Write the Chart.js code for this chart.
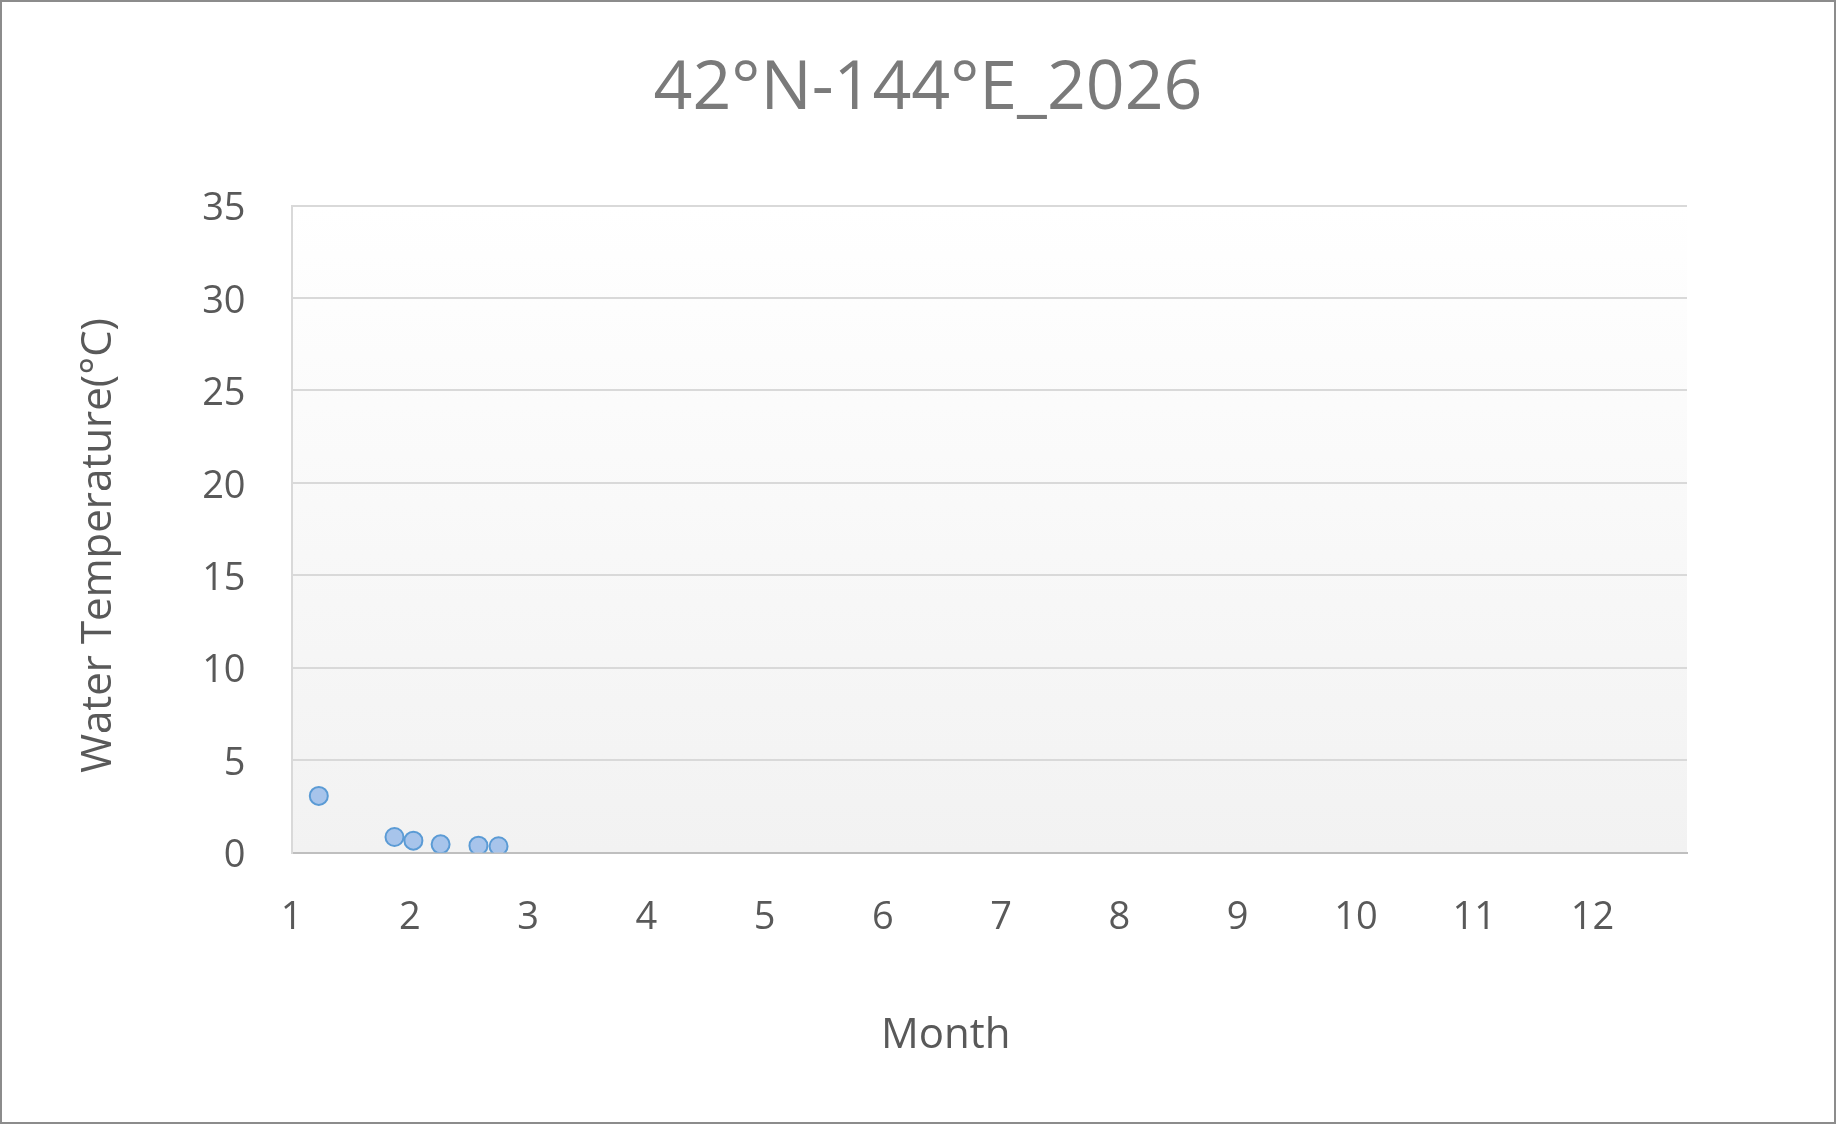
<!DOCTYPE html>
<html>
<head>
<meta charset="utf-8">
<title>42°N-144°E_2026</title>
<script src="https://cdn.jsdelivr.net/npm/chart.js@4/dist/chart.umd.min.js"></script>
<style>
    html, body { margin: 0; padding: 0; background: #fff; }
    #wrap {
        width: 1836px;
        height: 1124px;
        box-sizing: border-box;
        border: 2px solid #8c8c8c;
        background: #fff;
    }
    canvas { display: block; }
</style>
</head>
<body>
<div id="wrap">
    <canvas id="tempChart" width="1832" height="1120"></canvas>
</div>
<script>
// values
const months = [1.23, 1.87, 2.03, 2.26, 2.58, 2.75];
const temps = [3.06, 0.84, 0.64, 0.44, 0.37, 0.34];

const xTicks = [1, 2, 3, 4, 5, 6, 7, 8, 9, 10, 11, 12];
const yTicks = [0, 5, 10, 15, 20, 25, 30, 35];

const chartTitle = '42°N-144°E_2026';
// trailing spaces nudge the axis titles off-centre, like Excel placed them
const xTitle = 'Month        ';
const yTitle = 'Water Temperature(°C)   ';

const fontFamily = '"Open Sans", "Noto Sans", sans-serif';

// plot area gets a soft white -> light gray fill like the Excel original
const plotBackground = {
    id: 'plotBackground',
    beforeDraw(chart) {
        const {ctx, chartArea} = chart;
        if (!chartArea) {
            return;
        }
        const g = ctx.createLinearGradient(0, chartArea.top, 0, chartArea.bottom);
        g.addColorStop(0, '#ffffff');
        g.addColorStop(1, '#f2f2f2');
        ctx.save();
        ctx.fillStyle = g;
        ctx.fillRect(chartArea.left, chartArea.top, chartArea.right - chartArea.left, chartArea.bottom - chartArea.top);
        ctx.restore();
    }
};

document.addEventListener('DOMContentLoaded', function () {
    let context = document.getElementById('tempChart').getContext('2d');

    new Chart(context, {
        type: 'scatter',
        data: {
            datasets: [{
                label: chartTitle,
                data: months.map(function (m, i) {
                    return {x: m, y: temps[i]};
                }),
                pointRadius: 9,
                pointHoverRadius: 9,
                pointBackgroundColor: '#a7c4eb',
                pointBorderColor: '#5b9bd5',
                pointBorderWidth: 2
            }]
        },
        plugins: [plotBackground],
        options: {
            responsive: false,
            animation: false,
            layout: {
                padding: {left: 20, right: 0, top: 0, bottom: 0}
            },
            plugins: {
                legend: {display: false},
                tooltip: {enabled: false},
                title: {
                    display: true,
                    text: chartTitle,
                    color: '#7a7a7a',
                    font: {family: fontFamily, size: 68, weight: 'normal'},
                    padding: {top: 47, bottom: 75}
                }
            },
            scales: {
                x: {
                    type: 'linear',
                    min: 1,
                    max: 12.8,
                    afterBuildTicks: function (scale) {
                        scale.ticks = xTicks.map(function (v) { return {value: v}; });
                    },
                    afterFit: function (scale) {
                        scale.height = 269.5;
                    },
                    grid: {display: false, drawTicks: false},
                    border: {display: true, color: '#bfbfbf', width: 2},
                    ticks: {
                        color: '#595959',
                        padding: 43,
                        maxRotation: 0,
                        autoSkip: false,
                        font: {family: fontFamily, size: 38}
                    },
                    title: {
                        display: true,
                        text: xTitle,
                        color: '#595959',
                        font: {family: fontFamily, size: 42},
                        padding: {top: 0, bottom: 61}
                    }
                },
                y: {
                    min: 0,
                    max: 35,
                    afterBuildTicks: function (scale) {
                        scale.ticks = yTicks.map(function (v) { return {value: v}; });
                    },
                    afterFit: function (scale) {
                        scale.width = 269.6;
                    },
                    grid: {color: '#d9d9d9', lineWidth: 2, drawTicks: false},
                    border: {display: true, color: '#d9d9d9', width: 2},
                    ticks: {
                        color: '#595959',
                        padding: 46,
                        labelOffset: 4,
                        font: {family: fontFamily, size: 38}
                    },
                    title: {
                        display: true,
                        text: yTitle,
                        color: '#595959',
                        font: {family: fontFamily, size: 42},
                        padding: {top: 52, bottom: 0}
                    }
                },
                // empty axis that only keeps the right margin free
                yRight: {
                    position: 'right',
                    min: 0,
                    max: 35,
                    afterFit: function (scale) {
                        scale.width = 147;
                    },
                    grid: {display: false, drawTicks: false},
                    border: {display: false},
                    ticks: {display: false}
                }
            }
        }
    });
});
</script>
</body>
</html>
